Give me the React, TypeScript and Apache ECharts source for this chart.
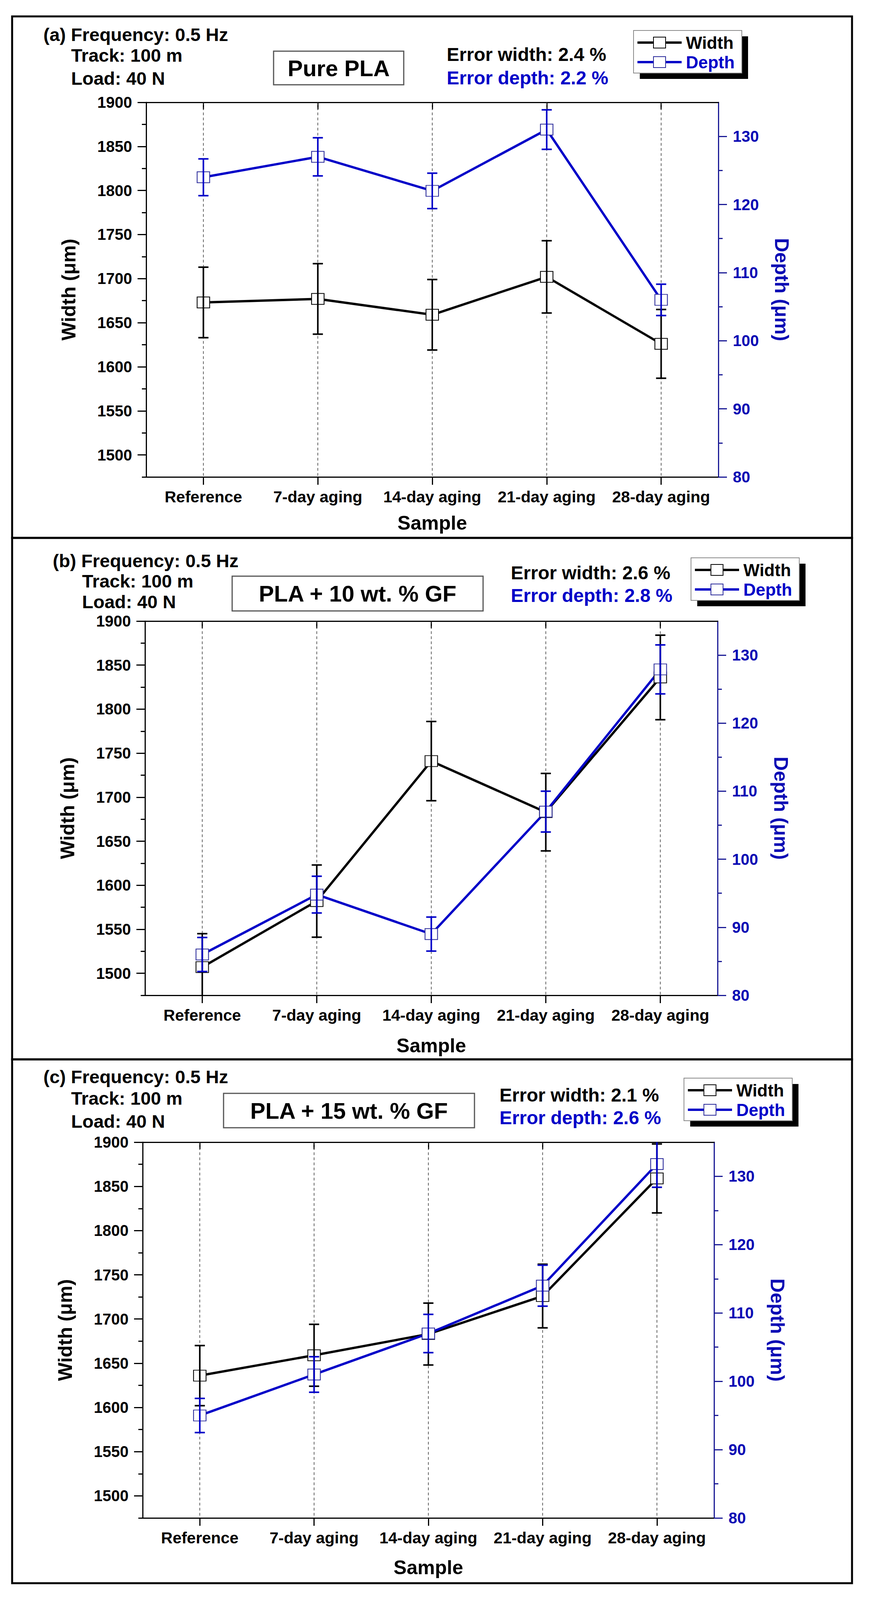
import React, { useEffect, useRef } from "react";
import * as echarts from "echarts";

const FONT = '"Liberation Sans", Arial, Helvetica, sans-serif';
const BLUE = "#0000c8";
const BLUE_AXIS = "#1c1c96";
const BLUE_LABEL = "#0a0ab4";

// ---------- data ----------
const categories = ["Reference", "7-day aging", "14-day aging", "21-day aging", "28-day aging"];

const widthTicks = [1500, 1550, 1600, 1650, 1700, 1750, 1800, 1850, 1900];
const widthMinorTicks = [1475, 1525, 1575, 1625, 1675, 1725, 1775, 1825, 1875];
const depthTicks = [80, 90, 100, 110, 120, 130];
const depthMinorTicks = [85, 95, 105, 115, 125];

// (a) Pure PLA
const widthA = [1673, 1677, 1659, 1702, 1626];
const widthErrA = [40, 40, 40, 41, 39];
const depthA = [124.0, 127.0, 122.0, 131.0, 106.0];
const depthErrA = [2.7, 2.8, 2.6, 2.9, 2.3];

// (b) PLA + 10 wt.% GF
const widthB = [1507, 1582, 1741, 1683, 1836];
const widthErrB = [38, 41, 45, 44, 48];
const depthB = [86.0, 94.8, 89.0, 107.0, 127.9];
const depthErrB = [2.5, 2.7, 2.5, 3.0, 3.6];

// (c) PLA + 15 wt.% GF
const widthC = [1636, 1659, 1683, 1726, 1859];
const widthErrC = [34, 35, 35, 36, 39];
const depthC = [95.0, 101.0, 107.0, 114.0, 131.8];
const depthErrC = [2.5, 2.6, 2.8, 3.0, 3.4];

const panelTexts = [
  { tag: "(a)", material: "Pure PLA", errW: "2.4", errD: "2.2" },
  { tag: "(b)", material: "PLA + 10 wt. % GF", errW: "2.6", errD: "2.8" },
  { tag: "(c)", material: "PLA + 15 wt. % GF", errW: "2.1", errD: "2.6" },
];
const panelData = [
  { w: widthA, we: widthErrA, d: depthA, de: depthErrA },
  { w: widthB, we: widthErrB, d: depthB, de: depthErrB },
  { w: widthC, we: widthErrC, d: depthC, de: depthErrC },
];

// ---------- layout (reference pixel coords; y is scaled to fit the captured height) ----------
const K = 4090 / 4571;
const Y = (v: number) => Math.round(v * K);

const layouts = [
  {
    frame: [31, 47, 2149, 1492],
    grid: { left: 374, top: 293, width: 1464, height: 1072 },
    head: { x: 111, y: 98 }, sub: { x: 182, y1: 158, y2: 223 },
    box: { x: 700, y: 146, w: 333, h: 97 },
    err: { x: 1143, y1: 155, y2: 222 },
    legend: { x: 1621, y: 87 },
    sampleGap: 104,
  },
  {
    frame: [31, 1539, 2149, 1492],
    grid: { left: 371, top: 1777, width: 1465, height: 1071 },
    head: { x: 135, y: 1604 }, sub: { x: 210, y1: 1662, y2: 1721 },
    box: { x: 594, y: 1649, w: 642, h: 99 },
    err: { x: 1307, y1: 1638, y2: 1703 },
    legend: { x: 1768, y: 1596 },
    sampleGap: 116,
  },
  {
    frame: [31, 3031, 2149, 1499],
    grid: { left: 365, top: 3268, width: 1462, height: 1075 },
    head: { x: 111, y: 3080 }, sub: { x: 182, y1: 3142, y2: 3207 },
    box: { x: 572, y: 3128, w: 642, h: 99 },
    err: { x: 1278, y1: 3133, y2: 3197 },
    legend: { x: 1750, y: 3085 },
    sampleGap: 114,
  },
];

function txt(text: string, x: number, y: number, size: number, fill = "#000", align = "left") {
  return {
    type: "text",
    x,
    y,
    silent: true,
    style: {
      text,
      fill,
      fontSize: size,
      fontWeight: "bold",
      fontFamily: FONT,
      textAlign: align,
      textVerticalAlign: "middle",
      verticalAlign: "middle",
    },
  };
}

function legendGraphic(x: number, yRef: number) {
  const W = 277, H = Y(122);
  const y = Y(yRef);
  const els: any[] = [
    { type: "rect", silent: true, shape: { x: x + 16, y: y + 15, width: W, height: H }, style: { fill: "#000" } },
    { type: "rect", silent: true, shape: { x, y, width: W, height: H }, style: { fill: "#fff", stroke: "#8a8a8a", lineWidth: 2 } },
  ];
  const items = [
    { name: "Width", color: "#000", mk: "#000", dy: 35 },
    { name: "Depth", color: BLUE, mk: "#2a2a9a", dy: 90 },
  ];
  items.forEach((it) => {
    const cy = y + Y(it.dy);
    const x0 = x + 10;
    els.push({ type: "line", silent: true, shape: { x1: x0, y1: cy, x2: x0 + 113, y2: cy }, style: { stroke: it.color, lineWidth: 6 } });
    els.push({ type: "rect", silent: true, shape: { x: x0 + 41, y: cy - 14, width: 31, height: 28 }, style: { fill: "#fff", stroke: it.mk, lineWidth: 2 } });
    els.push(txt(it.name, x + 134, cy, 44, it.color));
  });
  return els;
}

function errRender(color: string) {
  return (params: any, api: any) => {
    const i = api.value(0);
    const lo = api.value(1);
    const hi = api.value(2);
    const cs = params.coordSys;
    const top = cs.y, bot = cs.y + cs.height;
    const pHi = api.coord([i, hi]);
    const pLo = api.coord([i, lo]);
    const x = pHi[0];
    let yHi = pHi[1], yLo = pLo[1];
    const hiClip = yHi < top, loClip = yLo > bot;
    yHi = Math.max(yHi, top);
    yLo = Math.min(yLo, bot);
    const style = { stroke: color, lineWidth: 4 };
    const children: any[] = [{ type: "line", shape: { x1: x, y1: yHi, x2: x, y2: yLo }, style }];
    if (!hiClip) children.push({ type: "line", shape: { x1: x - 13, y1: yHi, x2: x + 13, y2: yHi }, style });
    if (!loClip) children.push({ type: "line", shape: { x1: x - 13, y1: yLo, x2: x + 13, y2: yLo }, style });
    return { type: "group", children };
  };
}

function gridLineRender(params: any, api: any) {
  const cs = params.coordSys;
  const p = api.coord([api.value(0), api.value(1)]);
  return {
    type: "line",
    shape: { x1: p[0], y1: cs.y, x2: p[0], y2: cs.y + cs.height },
    style: { stroke: "#333", lineWidth: 1.5, lineDash: [7, 6] },
  };
}

const plain = (v: number) => String(v);

function buildOption() {
  const grid: any[] = [];
  const xAxis: any[] = [];
  const yAxis: any[] = [];
  const series: any[] = [];
  const graphic: any[] = [];

  layouts.forEach((L, p) => {
    const T = panelTexts[p];
    const D = panelData[p];
    const gTop = Y(L.grid.top);
    const gH = Y(L.grid.top + L.grid.height) - gTop;
    grid.push({ left: L.grid.left, top: gTop, width: L.grid.width, height: gH, containLabel: false, outerBoundsMode: "none" });

    xAxis.push({
      type: "category",
      gridIndex: p,
      position: "bottom",
      data: categories,
      boundaryGap: true,
      axisLine: { show: true, lineStyle: { color: "#000", width: 3 } },
      axisTick: { show: true, alignWithLabel: true, inside: false, length: 20, lineStyle: { color: "#000", width: 3 } },
      axisLabel: { show: true, interval: 0, margin: 30, color: "#000", fontSize: 41, fontWeight: "bold", fontFamily: FONT },
      splitLine: { show: false },
      name: "Sample",
      nameLocation: "middle",
      nameGap: Y(L.sampleGap),
      nameTextStyle: { color: "#000", fontSize: 50, fontWeight: "bold", fontFamily: FONT },
    });
    xAxis.push({
      type: "category",
      gridIndex: p,
      position: "top",
      data: categories,
      boundaryGap: true,
      axisLine: { show: true, lineStyle: { color: "#000", width: 3 } },
      axisTick: { show: true, alignWithLabel: true, inside: true, length: 18, lineStyle: { color: "#000", width: 3 } },
      axisLabel: { show: false },
      splitLine: { show: false },
    });

    yAxis.push({
      type: "value",
      gridIndex: p,
      position: "left",
      min: 1475,
      max: 1900,
      axisLine: { show: true, lineStyle: { color: "#000", width: 3 } },
      axisTick: { show: true, inside: false, length: 22, customValues: widthTicks, lineStyle: { color: "#000", width: 3 } },
      axisLabel: { show: true, customValues: widthTicks, formatter: plain, margin: 36, color: "#000", fontSize: 40, fontWeight: "bold", fontFamily: FONT },
      splitLine: { show: false },
      name: "Width (μm)",
      nameLocation: "middle",
      nameGap: 173,
      nameRotate: 90,
      nameTextStyle: { color: "#000", fontSize: 50, fontWeight: "bold", fontFamily: FONT },
    });
    yAxis.push({
      type: "value",
      gridIndex: p,
      position: "left",
      min: 1475,
      max: 1900,
      axisLine: { show: false },
      axisTick: { show: true, inside: false, length: 11, customValues: widthMinorTicks, lineStyle: { color: "#000", width: 3 } },
      axisLabel: { show: false },
      splitLine: { show: false },
    });
    yAxis.push({
      type: "value",
      gridIndex: p,
      position: "right",
      min: 80,
      max: 135,
      axisLine: { show: true, lineStyle: { color: BLUE_AXIS, width: 3 } },
      axisTick: { show: true, inside: false, length: 22, customValues: depthTicks, lineStyle: { color: BLUE_AXIS, width: 3 } },
      axisLabel: { show: true, customValues: depthTicks, formatter: plain, margin: 37, color: BLUE_LABEL, fontSize: 40, fontWeight: "bold", fontFamily: FONT },
      splitLine: { show: false },
      name: "Depth (μm)",
      nameLocation: "middle",
      nameGap: 137,
      nameRotate: -90,
      nameTextStyle: { color: BLUE_LABEL, fontSize: 50, fontWeight: "bold", fontFamily: FONT },
    });
    yAxis.push({
      type: "value",
      gridIndex: p,
      position: "right",
      min: 80,
      max: 135,
      axisLine: { show: false },
      axisTick: { show: true, inside: false, length: 11, customValues: depthMinorTicks, lineStyle: { color: BLUE_AXIS, width: 3 } },
      axisLabel: { show: false },
      splitLine: { show: false },
    });

    const xi = p * 2;
    const yW = p * 4;
    const yD = p * 4 + 2;

    series.push({
      type: "custom",
      name: "grid" + p,
      xAxisIndex: xi,
      yAxisIndex: yW,
      renderItem: gridLineRender,
      encode: { x: 0, y: 1 },
      data: categories.map((_, i) => [i, 1475]),
      silent: true,
      z: 1,
    });
    series.push({
      type: "line",
      name: "Width",
      xAxisIndex: xi,
      yAxisIndex: yW,
      data: D.w,
      symbol: "rect",
      symbolSize: [32, 28],
      showAllSymbol: true,
      lineStyle: { color: "#000", width: 6 },
      itemStyle: { color: "#fff", borderColor: "#000", borderWidth: 2 },
      z: 3,
    });
    series.push({
      type: "line",
      name: "Depth",
      xAxisIndex: xi,
      yAxisIndex: yD,
      data: D.d,
      symbol: "rect",
      symbolSize: [32, 28],
      showAllSymbol: true,
      lineStyle: { color: BLUE, width: 6 },
      itemStyle: { color: "#fff", borderColor: "#2a2a9a", borderWidth: 2 },
      z: 3,
    });
    series.push({
      type: "custom",
      name: "Width error",
      xAxisIndex: xi,
      yAxisIndex: yW,
      renderItem: errRender("#000"),
      encode: { x: 0, y: [1, 2] },
      data: D.w.map((v, i) => [i, v - D.we[i], v + D.we[i]]),
      z: 4,
    });
    series.push({
      type: "custom",
      name: "Depth error",
      xAxisIndex: xi,
      yAxisIndex: yD,
      renderItem: errRender(BLUE),
      encode: { x: 0, y: [1, 2] },
      data: D.d.map((v, i) => [i, v - D.de[i], v + D.de[i]]),
      z: 4,
    });

    // frame
    const fy = Y(L.frame[1]);
    graphic.push({
      type: "rect",
      silent: true,
      shape: { x: L.frame[0], y: fy, width: L.frame[2], height: Y(L.frame[1] + L.frame[3]) - fy },
      style: { fill: "none", stroke: "#000", lineWidth: 5 },
    });
    // texts
    graphic.push(txt(T.tag + " Frequency: 0.5 Hz", L.head.x, Y(L.head.y), 47));
    graphic.push(txt("Track: 100 m", L.sub.x, Y(L.sub.y1), 47));
    graphic.push(txt("Load: 40 N", L.sub.x, Y(L.sub.y2), 47));
    const by = Y(L.box.y);
    const bh = Y(L.box.y + L.box.h) - by;
    graphic.push({
      type: "rect",
      silent: true,
      shape: { x: L.box.x, y: by, width: L.box.w, height: bh },
      style: { fill: "#fff", stroke: "#555", lineWidth: 3 },
    });
    graphic.push(txt(T.material, L.box.x + L.box.w / 2, by + bh / 2, 58, "#000", "center"));
    graphic.push(txt("Error width: " + T.errW + " %", L.err.x, Y(L.err.y1), 48));
    graphic.push(txt("Error depth: " + T.errD + " %", L.err.x, Y(L.err.y2), 48, BLUE));
    legendGraphic(L.legend.x, L.legend.y).forEach((e) => graphic.push(e));
  });

  return {
    animation: false,
    backgroundColor: "#fff",
    textStyle: { fontFamily: FONT },
    grid,
    xAxis,
    yAxis,
    series,
    graphic: { elements: graphic },
  };
}

export default function App() {
  const ref = useRef<HTMLDivElement>(null);
  useEffect(() => {
    if (!ref.current) return;
    const chart = echarts.init(ref.current, undefined, { renderer: "svg" });
    chart.setOption(buildOption() as any);
    return () => chart.dispose();
  }, []);
  return (
    <div
      ref={ref}
      style={{ position: "absolute", left: 0, top: 0, width: 2226, height: 4571, background: "#fff" }}
    />
  );
}
